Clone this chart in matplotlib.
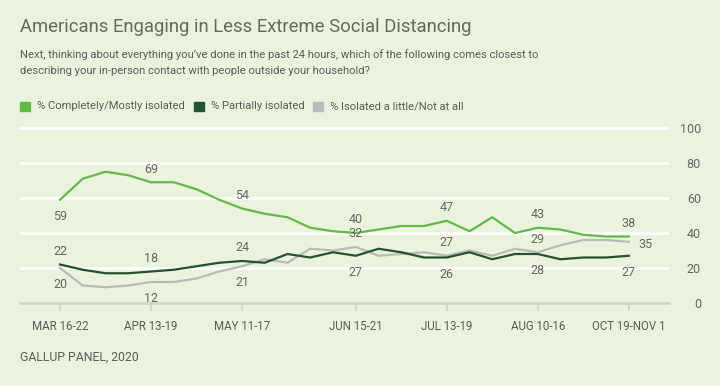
import numpy as np
import matplotlib
matplotlib.use('Agg')
import matplotlib.pyplot as plt
from matplotlib.patches import Rectangle

# Datos (Gallup Panel 2020)
n_points = 26
tick_idx = [0, 4, 8, 13, 17, 21, 25]
tick_labels = ['MAR 16-22', 'APR 13-19', 'MAY 11-17', 'JUN 15-21',
               'JUL 13-19', 'AUG 10-16', 'OCT 19-NOV 1']

isolated = [59, 71, 75, 73, 69, 69, 65, 59, 54, 51, 49, 43, 41, 40,
            42, 44, 44, 47, 41, 49, 40, 43, 42, 39, 38, 38]
partial = [22, 19, 17, 17, 18, 19, 21, 23, 24, 23, 28, 26, 29, 27,
           31, 29, 26, 26, 29, 25, 28, 28, 25, 26, 26, 27]
little = [20, 10, 9, 10, 12, 12, 14, 18, 21, 25, 23, 31, 30, 32,
          27, 28, 29, 27, 30, 27, 31, 29, 33, 36, 36, 35]

series_names = ['% Completely/Mostly isolated', '% Partially isolated',
                '% Isolated a little/Not at all']
colors = ['#62bb47', '#23532f', '#bababa']

# etiquetas: (índice, posición)
labels_iso = [(0, 'below'), (4, 'above'), (8, 'above'), (13, 'above'),
              (17, 'above'), (21, 'above'), (25, 'above')]
labels_par = [(0, 'above'), (4, 'above'), (8, 'above'), (13, 'below'),
              (17, 'below'), (21, 'below'), (25, 'below')]
labels_lit = [(0, 'below'), (4, 'below'), (8, 'below'), (13, 'above'),
              (17, 'above'), (21, 'above'), (25, 'right')]

bg = '#ebf3de'
txt = '#5c5c5c'
plt.rcParams['font.family'] = ['Roboto', 'DejaVu Sans']

fig = plt.figure(figsize=(7.2, 3.86), dpi=100, facecolor=bg)
W, H = 720, 386
ax = fig.add_axes([20 / W, 1 - 303 / H, (669 - 20) / W, (303 - 124.5) / H])
ax.set_facecolor(bg)

x = np.arange(n_points)
x0 = 0 - 40 / 22.75
x1 = x0 + (669 - 20) / 22.75
ax.set_xlim(x0, x1)
ax.set_ylim(0, 102)

for y in [20, 40, 60, 80, 100]:
    ax.axhline(y, color='white', lw=2.0, zorder=1)

ax.plot(x, little, color=colors[2], lw=1.6, zorder=3)
ax.plot(x, partial, color=colors[1], lw=1.6, zorder=4)
ax.plot(x, isolated, color=colors[0], lw=1.6, zorder=5)

def put_labels(vals, spec):
    for i, pos in spec:
        if pos == 'above':
            off = (0, 9.5)
        elif pos == 'below':
            off = (0, -12)
        else:
            off = (12, -2)
        ax.annotate(str(vals[i]), (x[i], vals[i]), xytext=off,
                    textcoords='offset points', ha='center', va='center',
                    fontsize=9, color='#666666', zorder=6)

put_labels(isolated, labels_iso)
put_labels(partial, labels_par)
put_labels(little, labels_lit)

for s in ['top', 'left', 'right']:
    ax.spines[s].set_visible(False)
ax.spines['bottom'].set_color('#cfd5c6')
ax.spines['bottom'].set_linewidth(1.8)

ax.set_xticks(tick_idx)
ax.set_xticklabels(tick_labels, fontsize=8.3, color=txt)
ax.tick_params(axis='x', length=6, width=1.2, color='#cfd5c6', pad=6)

ax.yaxis.tick_right()
ax.set_yticks([0, 20, 40, 60, 80, 100])
ax.set_yticklabels(['0', '20', '40', '60', '80', '100'], fontsize=9, color='#666666')
ax.tick_params(axis='y', length=0, pad=23)
for lab in ax.get_yticklabels():
    lab.set_ha('right')

# Títulos
fig.text(20 / W, 1 - 27 / H, 'Americans Engaging in Less Extreme Social Distancing',
         fontsize=13.3, color='#636a5f', va='center', ha='left')
fig.text(20 / W, 1 - 55 / H,
         'Next, thinking about everything you\u2019ve done in the past 24 hours, which of the following comes closest to',
         fontsize=8.1, color=txt, va='center', ha='left')
fig.text(20 / W, 1 - 71 / H,
         'describing your in-person contact with people outside your household?',
         fontsize=8.1, color=txt, va='center', ha='left')

# Leyenda
leg_x = [20, 194, 313]
for name, c, lx in zip(series_names, colors, leg_x):
    fig.patches.append(Rectangle((lx / W, 1 - 111 / H), 10 / W, 9 / H,
                                 transform=fig.transFigure, color=c))
    fig.text((lx + 17) / W, 1 - 106 / H, name, fontsize=8.1, color=txt,
             va='center', ha='left')

fig.text(20 / W, 1 - 357 / H, 'GALLUP PANEL, 2020', fontsize=8.8, color=txt,
         va='center', ha='left')

fig.savefig('out.png', dpi=100, facecolor=bg)
